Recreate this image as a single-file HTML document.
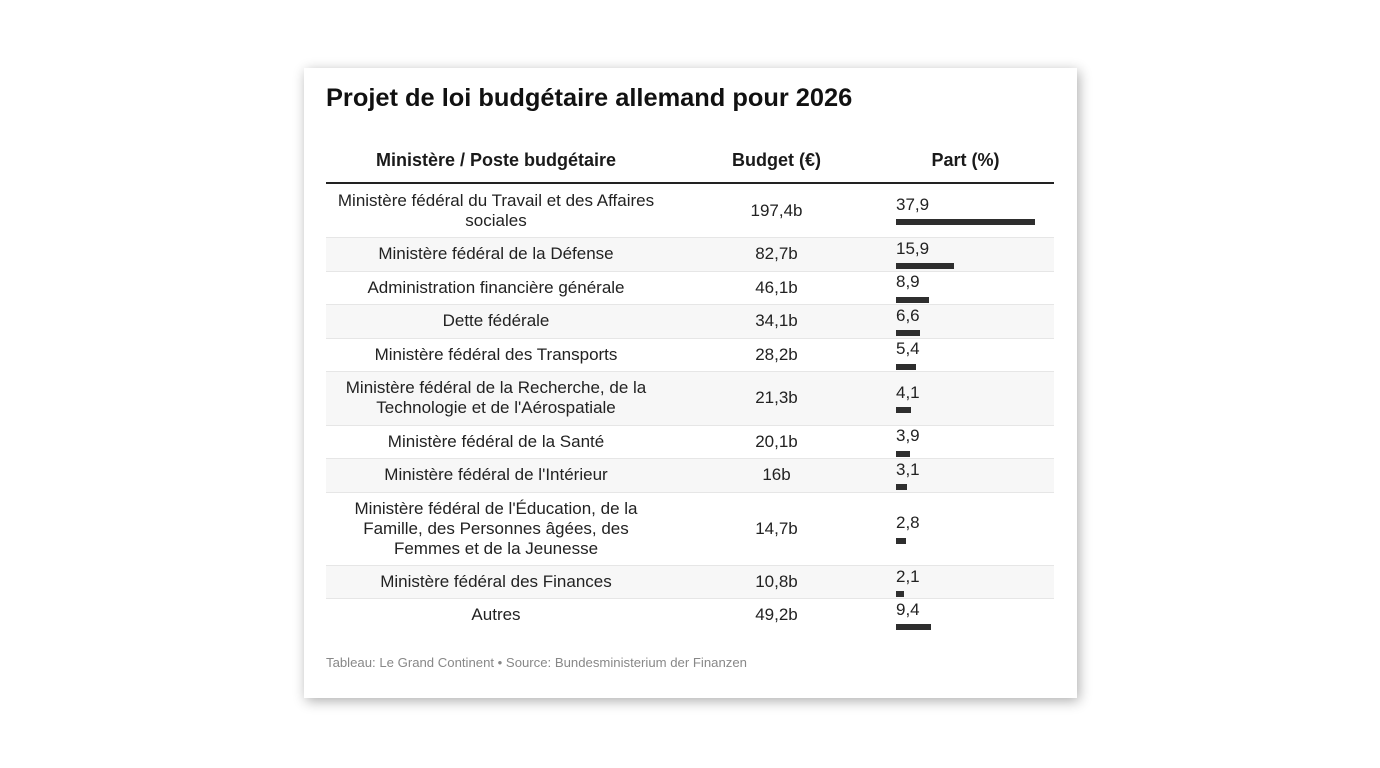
<!DOCTYPE html>
<html><head><meta charset="utf-8"><style>
html,body{margin:0;padding:0;background:#fff;}
body{width:1380px;height:768px;position:relative;overflow:hidden;font-family:"Liberation Sans",Arial,sans-serif;color:#222;}
.card{position:absolute;left:304px;top:68px;width:773px;height:630px;background:#fff;box-shadow:2px 3px 12px rgba(0,0,0,0.32);}
.abs{position:absolute;}
.title{left:326px;top:83px;font-size:25.4px;line-height:30px;font-weight:bold;color:#111;white-space:nowrap;}
.hd{top:150px;font-size:18px;line-height:20px;font-weight:bold;color:#1a1a1a;text-align:center;white-space:nowrap;}
.hline{left:326px;top:182px;width:728px;height:2px;background:#222;}
.row{position:absolute;left:326px;width:728px;}
.row.g{background:#f7f7f7;}
.row.b{border-top:1px solid #e6e6e6;box-sizing:border-box;}
.c1,.c2{position:absolute;top:0;bottom:0;display:flex;align-items:center;justify-content:center;text-align:center;font-size:17px;line-height:20px;white-space:nowrap;}
.c1{left:0;width:340px;}
.c2{left:340px;width:221px;}
.num{position:absolute;left:570px;font-size:17px;line-height:20px;white-space:nowrap;}
.bar{position:absolute;left:570px;height:6px;background:#2e2e2e;}
.foot{left:326px;top:655px;font-size:13.15px;line-height:16px;color:#888;white-space:nowrap;}
</style></head><body>
<div class="card"></div>
<div class="abs title">Projet de loi budgétaire allemand pour 2026</div>
<div class="abs hd" style="left:326px;width:340px;">Ministère / Poste budgétaire</div>
<div class="abs hd" style="left:666px;width:221px;">Budget (€)</div>
<div class="abs hd" style="left:887px;width:157px;">Part (%)</div>
<div class="abs hline"></div>

<div class="row" style="top:184px;height:53px;">
  <div class="c1">Ministère fédéral du Travail et des Affaires<br>sociales</div>
  <div class="c2">197,4b</div>
  <div class="num" style="top:10.5px;">37,9</div>
  <div class="bar" style="top:35px;width:139px;"></div>
</div>
<div class="row g b" style="top:237px;height:33.5px;">
  <div class="c1">Ministère fédéral de la Défense</div>
  <div class="c2">82,7b</div>
  <div class="num" style="top:0.75px;">15,9</div>
  <div class="bar" style="top:25.25px;width:58px;"></div>
</div>
<div class="row b" style="top:270.5px;height:33.5px;">
  <div class="c1">Administration financière générale</div>
  <div class="c2">46,1b</div>
  <div class="num" style="top:0.75px;">8,9</div>
  <div class="bar" style="top:25.25px;width:33px;"></div>
</div>
<div class="row g b" style="top:304px;height:33.5px;">
  <div class="c1">Dette fédérale</div>
  <div class="c2">34,1b</div>
  <div class="num" style="top:0.75px;">6,6</div>
  <div class="bar" style="top:25.25px;width:24px;"></div>
</div>
<div class="row b" style="top:337.5px;height:33.5px;">
  <div class="c1">Ministère fédéral des Transports</div>
  <div class="c2">28,2b</div>
  <div class="num" style="top:0.75px;">5,4</div>
  <div class="bar" style="top:25.25px;width:20px;"></div>
</div>
<div class="row g b" style="top:371px;height:53.5px;">
  <div class="c1">Ministère fédéral de la Recherche, de la<br>Technologie et de l'Aérospatiale</div>
  <div class="c2">21,3b</div>
  <div class="num" style="top:10.75px;">4,1</div>
  <div class="bar" style="top:35.25px;width:15px;"></div>
</div>
<div class="row b" style="top:424.5px;height:33.5px;">
  <div class="c1">Ministère fédéral de la Santé</div>
  <div class="c2">20,1b</div>
  <div class="num" style="top:0.75px;">3,9</div>
  <div class="bar" style="top:25.25px;width:14px;"></div>
</div>
<div class="row g b" style="top:458px;height:33.5px;">
  <div class="c1">Ministère fédéral de l'Intérieur</div>
  <div class="c2">16b</div>
  <div class="num" style="top:0.75px;">3,1</div>
  <div class="bar" style="top:25.25px;width:11px;"></div>
</div>
<div class="row b" style="top:491.5px;height:73.5px;">
  <div class="c1">Ministère fédéral de l'Éducation, de la<br>Famille, des Personnes âgées, des<br>Femmes et de la Jeunesse</div>
  <div class="c2">14,7b</div>
  <div class="num" style="top:20.75px;">2,8</div>
  <div class="bar" style="top:45.25px;width:10px;"></div>
</div>
<div class="row g b" style="top:565px;height:33px;">
  <div class="c1">Ministère fédéral des Finances</div>
  <div class="c2">10,8b</div>
  <div class="num" style="top:0.5px;">2,1</div>
  <div class="bar" style="top:25px;width:8px;"></div>
</div>
<div class="row b" style="top:598px;height:33px;">
  <div class="c1">Autres</div>
  <div class="c2">49,2b</div>
  <div class="num" style="top:0.5px;">9,4</div>
  <div class="bar" style="top:25px;width:34.5px;"></div>
</div>

<div class="abs foot">Tableau: Le Grand Continent • Source: Bundesministerium der Finanzen</div>
</body></html>
